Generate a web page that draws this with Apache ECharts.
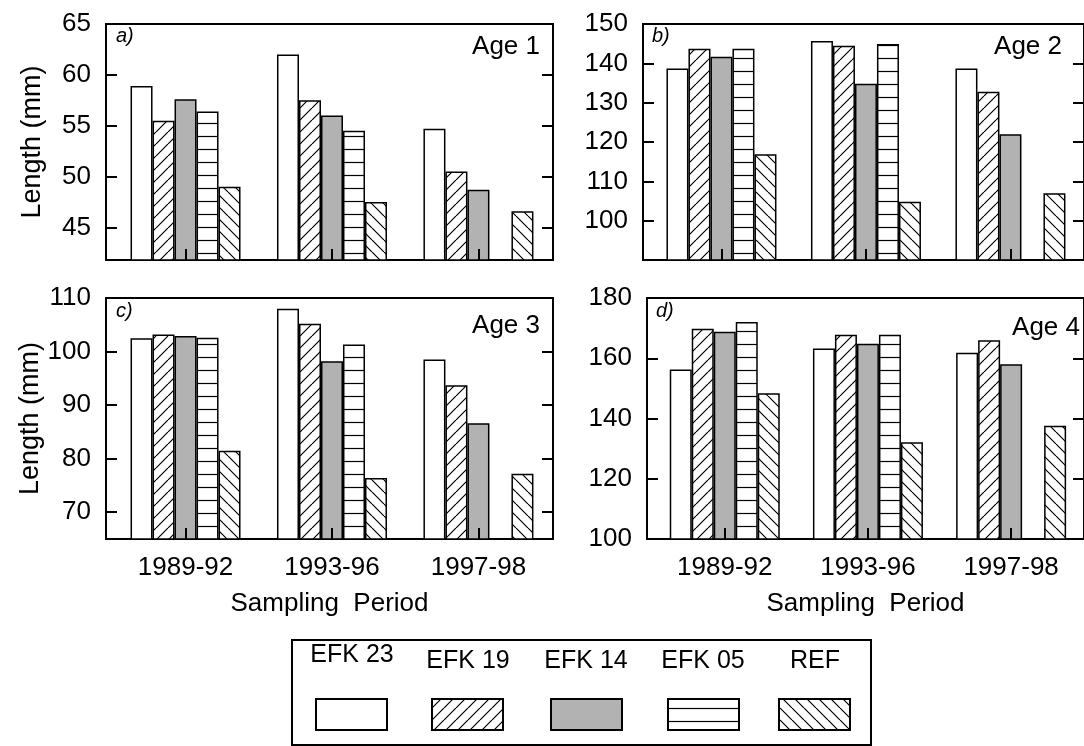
<!DOCTYPE html>
<html><head><meta charset="utf-8">
<script src="https://cdn.jsdelivr.net/npm/echarts@6/dist/echarts.min.js"></script>
<style>html,body{margin:0;padding:0;background:#fff}#c{width:1084px;height:746px}</style>
</head><body><div id="c"></div>
<script>
// ---- data ----
const periods = ['1989-92', '1993-96', '1997-98'];
const sites = ['EFK 23', 'EFK 19', 'EFK 14', 'EFK 05', 'REF'];
// rows = sites (EFK 23, EFK 19, EFK 14, EFK 05, REF), columns = periods
const age1 = [[58.9, 62.0, 54.7], [55.5, 57.5, 50.5], [57.6, 56.0, 48.7], [56.4, 54.5, null], [49.0, 47.5, 46.6]];
const age2 = [[138.7, 145.7, 138.7], [143.7, 144.5, 132.8], [141.7, 134.8, 122.0], [143.7, 144.9, null], [116.9, 104.8, 107.0]];
const age3 = [[102.5, 108.0, 98.5], [103.2, 105.2, 93.7], [102.9, 98.2, 86.6], [102.6, 101.3, null], [81.5, 76.4, 77.2]];
const age4 = [[156.3, 163.2, 161.8], [169.8, 167.8, 166.0], [168.8, 164.8, 158.0], [172.0, 167.8, null], [148.4, 132.1, 137.6]];
const ticks1 = [45, 50, 55, 60, 65];
const ticks2 = [100, 110, 120, 130, 140, 150];
const ticks3 = [70, 80, 90, 100, 110];
const ticks4 = [100, 120, 140, 160, 180];
const panelLetters = ['a)', 'b)', 'c)', 'd)'];
const ageLabels = ['Age 1', 'Age 2', 'Age 3', 'Age 4'];

// ---- styling / layout ----
const FONT = '"Liberation Sans", Arial, Helvetica, sans-serif';
const FS = 26;
function mk(w, h, draw) {
  const c = document.createElement('canvas'); c.width = w; c.height = h;
  const g = c.getContext('2d'); g.fillStyle = '#fff'; g.fillRect(0, 0, w, h);
  g.strokeStyle = '#000'; g.lineWidth = 1.2; g.beginPath(); draw(g, w, h); g.stroke();
  return { image: c, repeat: 'repeat' };
}
const patFwd = mk(12, 12, (g, s) => { for (let k = -1; k <= 1; k++) { g.moveTo(k * s, s); g.lineTo(k * s + s, 0); } });
const patBack = mk(12, 12, (g, s) => { for (let k = -1; k <= 1; k++) { g.moveTo(k * s, 0); g.lineTo(k * s + s, s); } });
const patHoriz = mk(4, 13, (g, w) => { g.moveTo(0, 6.5); g.lineTo(w, 6.5); });
const fills = ['#ffffff', patFwd, '#b2b2b2', patHoriz, patBack];

const panels = [
  { data: age1, ticks: ticks1, min: 41.8, max: 65, grid: { left: 106, top: 24, width: 447, height: 236 }, yName: 'Length (mm)', xLabels: false },
  { data: age2, ticks: ticks2, min: 90, max: 150, grid: { left: 643, top: 24, width: 447, height: 236 }, yName: '', xLabels: false },
  { data: age3, ticks: ticks3, min: 65, max: 110, grid: { left: 106, top: 298, width: 447, height: 241 }, yName: 'Length (mm)', xLabels: true },
  { data: age4, ticks: ticks4, min: 100, max: 180, grid: { left: 647, top: 298, width: 447, height: 241 }, yName: '', xLabels: true }
];
const catIdx = periods.map((p, i) => i);

const grid = [], xAxis = [], yAxis = [], series = [];
panels.forEach((p, k) => {
  grid.push(Object.assign({ show: true, borderColor: '#000', borderWidth: 2, backgroundColor: 'transparent', containLabel: false }, p.grid));
  xAxis.push({
    type: 'value', gridIndex: k, min: -0.543, max: 2.509, z: 5, position: 'bottom',
    axisLine: { show: false, onZero: false }, splitLine: { show: false },
    axisTick: { show: true, inside: true, length: 11, customValues: catIdx.slice(), lineStyle: { color: '#000', width: 2 } },
    axisLabel: { show: p.xLabels, customValues: catIdx.slice(), formatter: v => periods[Math.round(v)], color: '#000', fontSize: FS, fontFamily: FONT, margin: 16 },
    name: p.xLabels ? 'Sampling  Period' : '', nameLocation: 'middle', nameGap: 52,
    nameTextStyle: { color: '#000', fontSize: FS, fontFamily: FONT }
  });
  yAxis.push({
    type: 'value', gridIndex: k, min: p.min, max: p.max, splitLine: { show: false },
    position: 'left', z: 5,
    axisLine: { show: false, onZero: false },
    axisTick: { show: true, inside: true, length: 11, customValues: p.ticks.slice(), lineStyle: { color: '#000', width: 2 } },
    axisLabel: { show: true, customValues: p.ticks.slice(), color: '#000', fontSize: FS, fontFamily: FONT, margin: 15 },
    name: p.yName, nameLocation: 'middle', nameGap: 60, nameRotate: 90,
    nameTextStyle: { color: '#000', fontSize: 27, fontFamily: FONT }
  });
  yAxis.push({
    type: 'value', gridIndex: k, min: p.min, max: p.max, splitLine: { show: false },
    position: 'right', z: 5,
    axisLine: { show: false, onZero: false },
    axisTick: { show: true, inside: true, length: 11, customValues: p.ticks.slice(), lineStyle: { color: '#000', width: 2 } },
    axisLabel: { show: false }
  });
  sites.forEach((s, j) => {
    series.push({
      type: 'bar', name: s, xAxisIndex: k, yAxisIndex: 2 * k,
      barWidth: 22, barGap: '0%',
      itemStyle: { color: fills[j], borderColor: '#000', borderWidth: 1.5 },
      data: p.data[j].map((v, i) => [i, v == null ? '-' : v]),
      animation: false, silent: true
    });
  });
});

const graphic = [];
const letterPos = [[116, 36], [652, 36], [116, 311], [656, 311]];
const agePos = [[540, 47], [1062, 47], [540, 326], [1080, 328]];
panels.forEach((p, k) => {
  graphic.push({ type: 'text', x: letterPos[k][0], y: letterPos[k][1], style: { text: panelLetters[k], font: 'italic 20px ' + FONT, fill: '#000', verticalAlign: 'middle', align: 'left' } });
  graphic.push({ type: 'text', x: agePos[k][0], y: agePos[k][1], style: { text: ageLabels[k], font: FS + 'px ' + FONT, fill: '#000', verticalAlign: 'middle', align: 'right' } });
});
// legend box
graphic.push({ type: 'rect', shape: { x: 292, y: 640, width: 579, height: 105 }, style: { fill: 'none', stroke: '#000', lineWidth: 2 } });
const swX = [316, 432, 551, 668, 779];
const txX = [352, 468, 586, 703, 815];
const txY = [655, 661, 661, 661, 661];
sites.forEach((s, j) => {
  graphic.push({ type: 'text', x: txX[j], y: txY[j], style: { text: s, font: '25px ' + FONT, fill: '#000', align: 'center', verticalAlign: 'middle' } });
  graphic.push({ type: 'rect', shape: { x: swX[j], y: 699, width: 71, height: 31 }, style: { fill: fills[j], stroke: '#000', lineWidth: 2 } });
});

const chart = echarts.init(document.getElementById('c'), null, { renderer: 'canvas' });
chart.setOption({ animation: false, backgroundColor: '#fff', grid, xAxis, yAxis, series, graphic });
</script></body></html>
